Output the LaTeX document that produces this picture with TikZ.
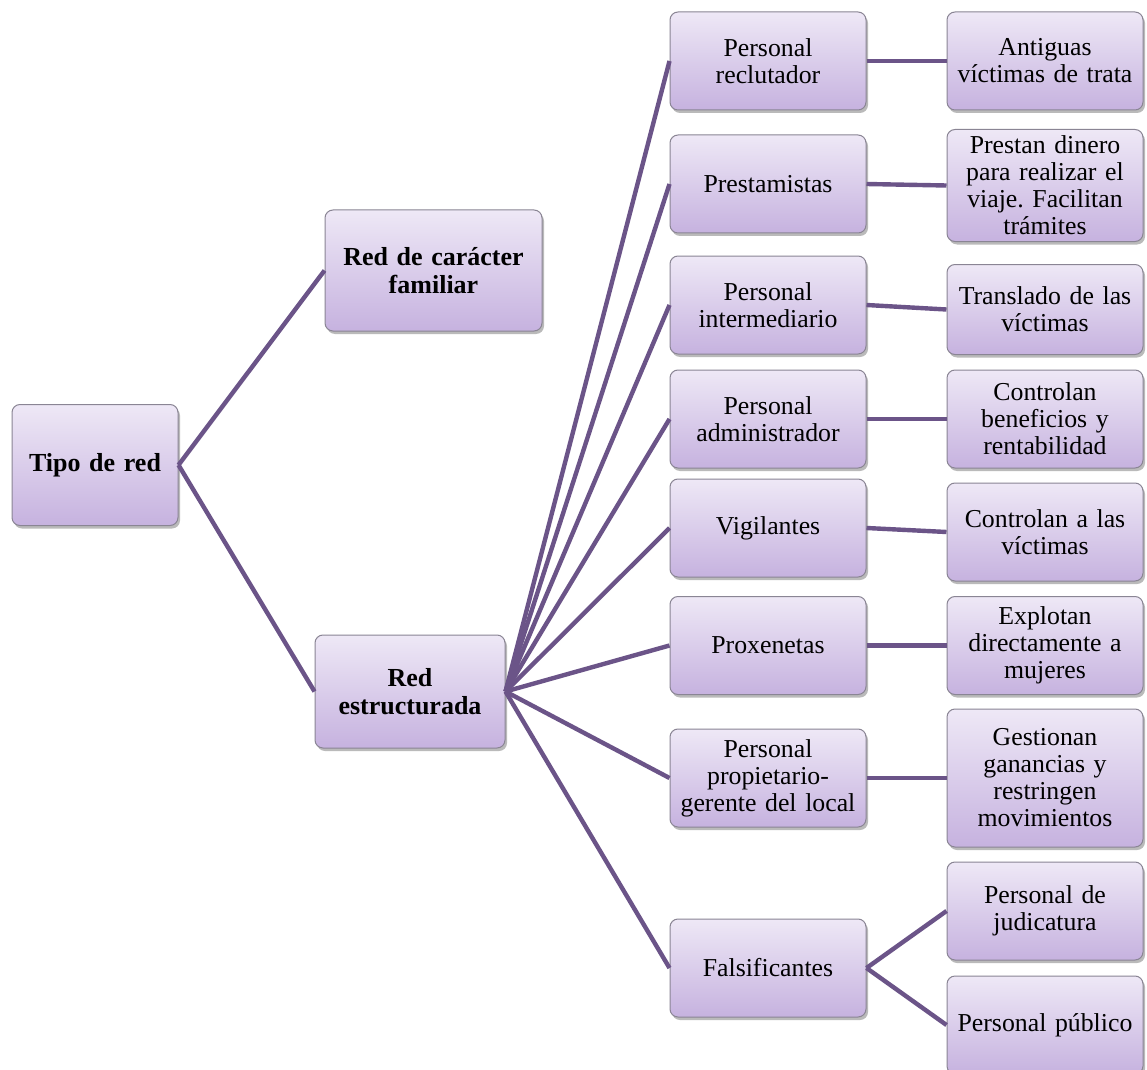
\documentclass[tikz,border=0pt]{standalone}
\usepackage{fontspec}
\setmainfont[WordSpace=0.8]{Liberation Serif}
\usetikzlibrary{shadows}
\definecolor{boxtop}{HTML}{EEE8F6}
\definecolor{boxbot}{HTML}{C6B2DF}
\definecolor{edgecol}{HTML}{6B5488}
\definecolor{bordercol}{HTML}{8A8594}
\begin{document}
\frenchspacing
\begin{tikzpicture}[x=0.5pt,y=-0.5pt,
  box/.style={draw=bordercol, line width=0.5pt, rounded corners=4pt,
    top color=boxtop, bottom color=boxbot, align=center,
    font=\fontsize{12.9pt}{13.5pt}\selectfont, inner sep=1pt,
    drop shadow={opacity=0.45, shadow xshift=1pt, shadow yshift=-1.5pt, fill=black!60}},
  colA/.style={box, minimum width=98pt, minimum height=49pt, text width=96pt},
  boldbox/.style={box, font=\fontsize{13pt}{13.8pt}\selectfont\bfseries},
  link/.style={draw=edgecol, line width=2.2pt}]
\useasboundingbox (0,0) rectangle (1147,1070);
\fill[white] (0,0) rectangle (1147,1070);

% level 0 and 1
\node[boldbox, minimum width=83pt, minimum height=60.5pt, text width=81pt] (tipo) at (95,465) {Tipo de red};
\node[boldbox, minimum width=108.5pt, minimum height=60.5pt, text width=106pt] (fam) at (433.5,270.5) {Red de carácter\\familiar};
\node[boldbox, minimum width=95pt, minimum height=56.5pt, text width=93pt] (est) at (410,691.5) {Red\\estructurada};

% column 2
\node[colA] (b1) at (768,61) {Personal\\reclutador};
\node[colA] (b2) at (768,184) {Prestamistas};
\node[colA] (b3) at (768,305) {Personal\\intermediario};
\node[colA] (b4) at (768,419) {Personal\\administrador};
\node[colA] (b5) at (768,528) {Vigilantes};
\node[colA] (b6) at (768,645.5) {Proxenetas};
\node[colA] (b7) at (768,778) {Personal\\propietario-\\gerente del local};
\node[colA] (b8) at (768,968) {Falsificantes};

% column 3
\node[colA] (c1) at (1045,61) {Antiguas\\víctimas de trata};
\node[colA, minimum height=56pt] (c2) at (1045,185.5) {Prestan dinero\\para realizar el\\viaje. Facilitan\\trámites};
\node[colA, minimum height=45pt] (c3) at (1045,309.5) {Translado de las\\víctimas};
\node[colA] (c4) at (1045,419) {Controlan\\beneficios y\\rentabilidad};
\node[colA] (c5) at (1045,532) {Controlan a las\\víctimas};
\node[colA] (c6) at (1045,645.5) {Explotan\\directamente a\\mujeres};
\node[colA, minimum height=69pt] (c7) at (1045,778) {Gestionan\\ganancias y\\restringen\\movimientos};
\node[colA] (c8) at (1045,911) {Personal de\\judicatura};
\node[colA] (c9) at (1045,1025) {Personal público};

% connectors
\draw[link] (tipo.east) -- (fam.west);
\draw[link] (tipo.east) -- (est.west);
\foreach \n in {b1,b2,b3,b4,b5,b6,b7,b8}
  \draw[link] (est.east) -- (\n.west);
\draw[link] (b1.east) -- (c1.west);
\draw[link] (b2.east) -- (c2.west);
\draw[link] (b3.east) -- (c3.west);
\draw[link] (b4.east) -- (c4.west);
\draw[link] (b5.east) -- (c5.west);
\draw[link] (b6.east) -- (c6.west);
\draw[link] (b7.east) -- (c7.west);
\draw[link] (b8.east) -- (c8.west);
\draw[link] (b8.east) -- (c9.west);
\end{tikzpicture}
\end{document}
